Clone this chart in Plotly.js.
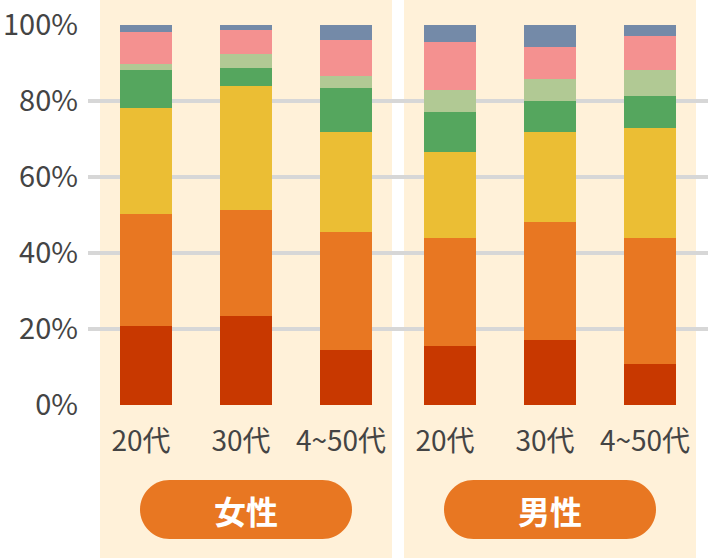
<!DOCTYPE html>
<html>
<head>
<meta charset="utf-8">
<script src="https://cdn.plot.ly/plotly-3.0.1.min.js"></script>
<style>html,body{margin:0;padding:0;background:#fff;}#chart{width:708px;height:558px;}</style>
</head>
<body>
<div id="chart"></div>
<script>
// ---- data (percent, bottom to top) ----
const ages = ['20代', '30代', '4~50代'];
const groups = ['女性', '男性'];
const segmentNames = ['区分1', '区分2', '区分3', '区分4', '区分5', '区分6', '区分7'];

const femaleRed        = [20.8, 23.4, 14.5];
const femaleOrange     = [29.5, 27.9, 31.0];
const femaleYellow     = [27.9, 32.6, 26.3];
const femaleGreen      = [10.0, 4.8, 11.6];
const femaleLightGreen = [1.5, 3.7, 3.2];
const femalePink       = [8.5, 6.3, 9.5];
const femaleBlue       = [1.8, 1.3, 3.9];

const maleRed        = [15.5, 17.1, 10.8];
const maleOrange     = [28.4, 31.1, 33.1];
const maleYellow     = [22.7, 23.6, 29.0];
const maleGreen      = [10.5, 8.1, 8.4];
const maleLightGreen = [5.8, 5.8, 6.9];
const malePink       = [12.6, 8.4, 8.9];
const maleBlue       = [4.5, 5.9, 2.9];

const yTicks = [0, 20, 40, 60, 80, 100];

// ---- styling ----
const colors = ['#C83800', '#E87722', '#EBBE34', '#55A65E', '#B1C994', '#F49190', '#748AA8'];
const female = [femaleRed, femaleOrange, femaleYellow, femaleGreen, femaleLightGreen, femalePink, femaleBlue];
const male = [maleRed, maleOrange, maleYellow, maleGreen, maleLightGreen, malePink, maleBlue];

const FONT = '"Noto Sans CJK JP", "Noto Sans", sans-serif';
const L = 88, R = 0, T = 25, B = 153, WIDTH = 708, HEIGHT = 558;
const PW = WIDTH - L - R, PH = HEIGHT - T - B;
const px2x = px => (px - L) / PW;
const py2y = py => (T + PH - py) / PH;

const traces = [];
segmentNames.forEach((name, i) => {
  traces.push({type: 'bar', name: name, x: ages, y: female[i], xaxis: 'x', yaxis: 'y',
    width: 0.52, marker: {color: colors[i], line: {width: 0}}, showlegend: false, hoverinfo: 'x+y'});
  traces.push({type: 'bar', name: name, x: ages, y: male[i], xaxis: 'x2', yaxis: 'y',
    width: 0.52, marker: {color: colors[i], line: {width: 0}}, showlegend: false, hoverinfo: 'x+y'});
});

function pillPath(x0, x1, y0, y1) {
  const r = (y1 - y0) / 2, k = 0.5523 * r, ym = (y0 + y1) / 2;
  const P = (px, py) => px2x(px).toFixed(5) + ',' + py2y(py).toFixed(5);
  return 'M' + P(x0 + r, y0) + ' L' + P(x1 - r, y0) +
    ' C' + P(x1 - r + k, y0) + ' ' + P(x1, ym - k) + ' ' + P(x1, ym) +
    ' C' + P(x1, ym + k) + ' ' + P(x1 - r + k, y1) + ' ' + P(x1 - r, y1) +
    ' L' + P(x0 + r, y1) +
    ' C' + P(x0 + r - k, y1) + ' ' + P(x0, ym + k) + ' ' + P(x0, ym) +
    ' C' + P(x0, ym - k) + ' ' + P(x0 + r - k, y0) + ' ' + P(x0 + r, y0) + ' Z';
}

const cream = '#FFF1D9';
const shapes = [
  {type: 'rect', xref: 'paper', yref: 'paper', layer: 'below', line: {width: 0}, fillcolor: cream,
   x0: px2x(100), x1: px2x(392), y0: py2y(558), y1: py2y(0)},
  {type: 'rect', xref: 'paper', yref: 'paper', layer: 'below', line: {width: 0}, fillcolor: cream,
   x0: px2x(404), x1: px2x(696), y0: py2y(558), y1: py2y(0)},
  {type: 'path', xref: 'paper', yref: 'paper', layer: 'above', line: {width: 0}, fillcolor: '#E87722',
   path: pillPath(140, 352, 480, 539)},
  {type: 'path', xref: 'paper', yref: 'paper', layer: 'above', line: {width: 0}, fillcolor: '#E87722',
   path: pillPath(444, 656, 480, 539)}
];

const annotations = [
  {text: groups[0], xref: 'paper', yref: 'paper', x: px2x(246), y: py2y(510), showarrow: false,
   xanchor: 'center', yanchor: 'middle', font: {family: FONT, size: 32, color: '#FFFFFF', weight: 700}},
  {text: groups[1], xref: 'paper', yref: 'paper', x: px2x(550), y: py2y(510), showarrow: false,
   xanchor: 'center', yanchor: 'middle', font: {family: FONT, size: 32, color: '#FFFFFF', weight: 700}}
];

const xCommon = {
  type: 'category', categoryorder: 'array', categoryarray: ages,
  showgrid: false, zeroline: false, showline: false, ticks: '',
  tickfont: {family: FONT, size: 28, color: '#444444'},
  ticklabelstandoff: 17, ticklabelshift: -5, fixedrange: true, anchor: 'y'
};

const layout = {
  width: WIDTH, height: HEIGHT,
  margin: {l: L, r: R, t: T, b: B, pad: 0},
  paper_bgcolor: '#FFFFFF', plot_bgcolor: 'rgba(0,0,0,0)',
  barmode: 'stack', showlegend: false,
  xaxis: Object.assign({}, xCommon, {domain: [0, 0.5], range: [-0.58, 2.52]}),
  xaxis2: Object.assign({}, xCommon, {domain: [0.5, 1], range: [-0.52, 2.58]}),
  yaxis: {
    range: [0, 100], tickvals: yTicks, ticktext: yTicks.map(v => v + '%'),
    showgrid: true, gridcolor: '#D7D7D7', gridwidth: 4, zeroline: false, showline: false,
    ticks: '', tickfont: {family: FONT, size: 29, color: '#444444'},
    ticklabelstandoff: 9, fixedrange: true, anchor: 'x'
  },
  shapes: shapes,
  annotations: annotations,
  font: {family: FONT}
};

Plotly.newPlot('chart', traces, layout, {displayModeBar: false, staticPlot: true});
</script>
</body>
</html>
